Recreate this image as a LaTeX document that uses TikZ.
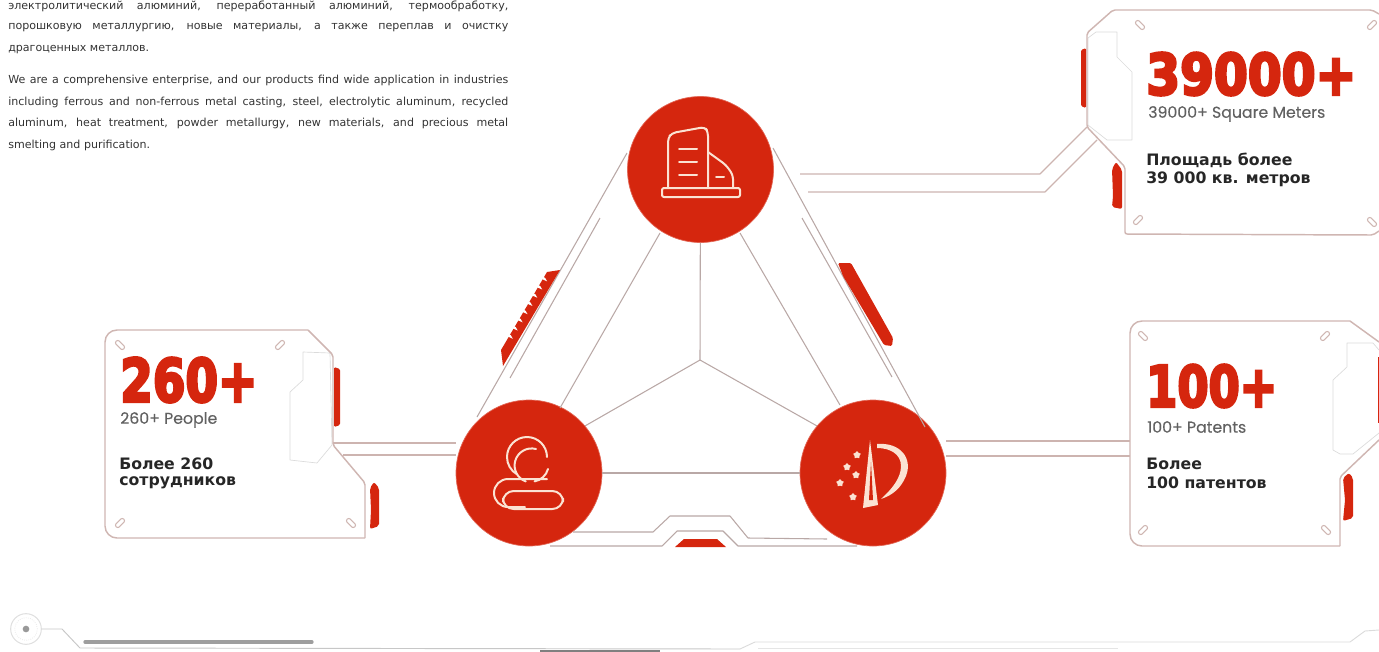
\documentclass[tikz,border=0pt]{standalone}
\usepackage{graphicx}
\usepackage{fontspec}
\usetikzlibrary{shapes.geometric,calc}
\setmainfont{DejaVu Sans}
\newfontfamily\heavyfont[BoldFeatures={FakeBold=5}]{DejaVu Sans}
\newfontfamily\subfont[FakeBold=0.25]{Poppins}
\newfontfamily\titlefont{DejaVu Sans}
\newlength\px \setlength\px{0.75pt}
\definecolor{brand}{HTML}{D5260E}
\definecolor{wire}{HTML}{CDB4B0}
\definecolor{wired}{HTML}{B9A8A6}
\definecolor{cardline}{HTML}{CFB6B2}
\definecolor{iconline}{HTML}{FBE3D3}
\definecolor{bodytext}{HTML}{333333}
\newcommand\bodyline[3]{\node[bodyl] (#1) at (8,#2) {\makebox[500\px][s]{#3}};}
\newcommand\lastline[3]{\node[bodyl] (#1) at (8,#2) {#3};}
\newcommand\bignum[3]{\resizebox{#1\px}{#2\px}{\heavyfont\bfseries #3}}
\tikzset{
  x=0.75pt,y=-0.75pt,
  bodyl/.style={anchor=west,inner sep=0,text=bodytext,font=\fontsize{8.3pt}{10pt}\selectfont},
  hubcircle/.style={circle,fill=brand,draw=brand!70!white,line width=0.5pt,minimum size=109.5pt,inner sep=0},
  wireline/.style={draw=wire,line width=0.85pt},
  spoke/.style={draw=wired,line width=0.8pt},
  card/.style={draw=cardline,line width=1.1pt,line join=round,rounded corners=1.5pt},
  tabline/.style={draw=black!14,line width=0.5pt,line join=round},
  redfill/.style={fill=brand,draw=none},
  icon/.style={draw=iconline,line width=1.5pt,line cap=round,line join=round},
  capsule/.style={draw=cardline,fill=white,line width=0.8pt,rectangle,rounded corners=1.5pt,minimum width=8pt,minimum height=3.4pt,inner sep=0},
  numl/.style={anchor=west,inner sep=0,text=brand},
  subl/.style={anchor=west,inner sep=0,text=black!62,font=\subfont\fontsize{11.8pt}{13pt}\selectfont},
  titl/.style={anchor=west,inner sep=0,text=black!85,font=\titlefont\bfseries\fontsize{11.8pt}{14pt}\selectfont},
  starm/.style={star,star points=5,fill=iconline,minimum size=6pt,inner sep=0},
}
\begin{document}
\begin{tikzpicture}
\useasboundingbox (0,0) rectangle (1379,651);
% body text
\bodyline{r1}{6}{электролитический алюминий, переработанный алюминий, термообработку,}
\bodyline{r2}{28}{порошковую металлургию, новые материалы, а также переплав и очистку}
\lastline{r3}{50}{драгоценных металлов.}
\bodyline{e1}{80}{We are a comprehensive enterprise, and our products find wide application in industries}
\bodyline{e2}{102}{including ferrous and non-ferrous metal casting, steel, electrolytic aluminum, recycled}
\bodyline{e3}{123}{aluminum, heat treatment, powder metallurgy, new materials, and precious metal}
\lastline{e4}{145}{smelting and purification.}
% circles
\node[hubcircle] (top) at (700.5,169.5) {};
\node[hubcircle] (left) at (529,473) {};
\node[hubcircle] (right) at (873,473) {};
\coordinate (hub) at (700,360);
% named wire ends
\coordinate (lo1) at (627,153); \coordinate (lo2) at (477,417);
\coordinate (li1) at (600,218); \coordinate (li2) at (510,378);
\coordinate (ro1) at (773,148); \coordinate (ro2) at (925,427);
\coordinate (ri1) at (802,218); \coordinate (ri2) at (892,377);
\coordinate (ls1) at (660,233); \coordinate (ls2) at (560,408);
\coordinate (rs1) at (740,233); \coordinate (rs2) at (840,405);
% triangle
\draw[spoke] (lo1) -- (lo2);
\draw[spoke] (li1) -- (li2);
\draw[spoke] (ro1) -- (ro2);
\draw[spoke] (ri1) -- (ri2);
\draw[spoke] (ls1) -- (ls2);
\draw[spoke] (rs1) -- (rs2);
\draw[spoke] (top) -- (hub);
\draw[spoke] (hub) -- (left.40);
\draw[spoke] (hub) -- (right.140);
\draw[spoke] (left) -- (right);
% bottom bracket
\draw[spoke,line join=round] (573,532) -- (653,532) -- (670,516) -- (730,516) -- (748,538) -- (827,539);
\draw[spoke,line join=round] (550,546) -- (662,546) -- (677,531) -- (723,531) -- (738,546) -- (857,546);
\fill[redfill] (675,547) -- (684,539) -- (717,539) -- (726,547) -- cycle;
% side tabs on the triangle
\fill[redfill] (560,270) -- (547,272) -- (501,350) -- (503,366) -- cycle;
\foreach \t in {0.12,0.22,...,0.9}
  \fill[white] ($(549,270)!\t!(500,352)$) ++(-2,-4) -- ++(4,2) -- ++(2,3.5) -- ++(-4.5,-2) -- cycle;
\fill[redfill,rounded corners=1pt] (838,263) -- (851,263) -- (893,338) -- (892,346) -- (884,345) -- (843,276) -- cycle;
% top right card
\coordinate (c1) at (1087,127);
\coordinate (c1b) at (1097,140);
\coordinate (w1) at (800,174); \coordinate (w1k) at (1040,174);
\coordinate (w2) at (808,192); \coordinate (w2k) at (1045,192);
\draw[wireline,line join=round] (w1) -- (w1k) -- (c1);
\draw[wireline,line join=round] (w2) -- (w2k) -- (c1b);
\draw[tabline,fill=white] (1088,38) -- (1096,32) -- (1117,32) -- (1117,57) -- (1132,72) -- (1132,140) -- (1107,140) -- (1088,125) -- cycle;
\draw[card] (1379,14) -- (1372,10) -- (1113,10) -- (1087,33) -- (1087,127) -- (1125,167) -- (1125,234) -- (1373,235) -- (1379,231);
\fill[redfill,rounded corners=1pt] (1081,50) -- (1086,48) -- (1086,108) -- (1081,106) -- cycle;
\fill[redfill,rounded corners=1.5pt] (1112,169) -- (1116,162) -- (1122,170) -- (1122,209) -- (1112,207) -- (1113,196) -- cycle;
\foreach \x/\y/\a in {1140/25/-45,1372/25/45,1138/220/45,1372/222/-45}
  \node[capsule,rotate=\a] at (\x,\y) {};
\node[numl] (n1) at (1146,74) {\bignum{210}{42}{39000+}};
\node[subl] (s1) at (1148,114) {39000+ Square Meters};
\node[titl] (t1a) at (1146,160) {Площадь более};
\node[titl] (t1b) at (1146,179) {39 000 кв. метров};
% left card
\coordinate (c2) at (333,443);
\coordinate (c2b) at (343,455);
\draw[wireline] (c2) -- (left.west |- c2);
\draw[wireline] (c2b) -- (left.west |- c2b);
\draw[tabline,fill=white] (303,352) -- (330,353) -- (332,445) -- (317,463) -- (290,460) -- (290,392) -- (303,380) -- cycle;
\draw[card,rounded corners=9pt] (308,330) -- (105,330) -- (105,538) -- (365,538);
\draw[card] (308,330) -- (333,355) -- (333,445) -- (365,483) -- (365,538);
\fill[redfill,rounded corners=1pt] (334,367) -- (340,369) -- (340,425) -- (334,427) -- cycle;
\fill[redfill,rounded corners=1.5pt] (370,488) -- (374,482) -- (379,488) -- (379,526) -- (370,529) -- (371,510) -- cycle;
\foreach \x/\y/\a in {120/345/-45,280/345/45,120/523/45,351/523/-45}
  \node[capsule,rotate=\a] at (\x,\y) {};
\node[numl] (n2) at (120,380) {\bignum{137}{44}{260+}};
\node[subl] (s2) at (120,420) {260+ People};
\node[titl] (t2a) at (119,464) {Более 260};
\node[titl] (t2b) at (119,483) {сотрудников};
% right card
\coordinate (c3) at (1130,441);
\coordinate (c3b) at (1130,456);
\draw[wireline] (right.east |- c3) -- (c3);
\draw[wireline] (right.east |- c3b) -- (c3b);
\draw[tabline,fill=white] (1379,350) -- (1373,343) -- (1347,343) -- (1347,367) -- (1333,380) -- (1333,450) -- (1340,454) -- (1353,454) -- (1379,433);
\draw[card,rounded corners=9pt] (1350,321) -- (1130,321) -- (1130,546) -- (1340,546);
\draw[card] (1350,321) -- (1379,342) (1379,440) -- (1340,477) -- (1340,546);
\fill[redfill] (1377.5,357) rectangle (1379,423);
\fill[redfill,rounded corners=1.5pt] (1343,478) -- (1349,473) -- (1353,478) -- (1353,518) -- (1343,521) -- (1345,500) -- cycle;
\foreach \x/\y/\a in {1143/336/-45,1325/336/45,1143/530/45,1326/530/-45}
  \node[capsule,rotate=\a] at (\x,\y) {};
\node[numl] (n3) at (1146,386) {\bignum{131}{42}{100+}};
\node[subl] (s3) at (1147,427) {100+ Patents};
\node[titl] (t3a) at (1146,464) {Более};
\node[titl] (t3b) at (1146,483) {100 патентов};
% building icon
\draw[icon,rounded corners=1.5pt] (662,188) rectangle (740,197);
\draw[icon,rounded corners=3pt] (668,188) -- (668,138) -- (672,133) -- (705,127) -- (708,132) -- (708,188);
\draw[icon,rounded corners=3pt] (708,152) -- (726,165) -- (733,175) -- (733,188);
\draw[icon] (679,149) -- (697,149) (679,162) -- (697,162) (679,175) -- (697,175) (716,177) -- (724,177);
% left icon
\draw[icon,rounded corners=8pt] (503,491) rectangle (563,509);
\draw[icon] (547,479) -- (508,479) arc[start angle=-90,end angle=-270,radius=14] -- (525,507);
\draw[icon] (547,457) arc[start angle=0,end angle=-240,radius=20];
\draw[icon] (536,449) arc[start angle=-75,end angle=-250,radius=17];
\draw[icon] (548,469) arc[start angle=15,end angle=80,radius=17];
% right icon
\fill[iconline] (870,440) -- (863,508) -- (878,505) -- cycle;
\fill[brand] (871,462) -- (869,500) -- (873,500) -- cycle;
\fill[iconline] (877,444) .. controls (900,442) and (913,458) .. (906,476) .. controls (901,488) and (893,495) .. (881,499) .. controls (892,489) and (901,478) .. (901,466) .. controls (901,454) and (890,448) .. (877,448) -- cycle;
\foreach \x/\y in {857/455,847/467,856/475,840/483,853/497}
  \node[starm] at (\x,\y) {};
% bottom decoration
\node[circle,draw=black!12,line width=0.8pt,minimum size=23pt,inner sep=0] (ring) at (26,629) {};
\node[circle,draw=black!8,densely dotted,line width=0.6pt,minimum size=17pt,inner sep=0] (ring2) at (26,629) {};
\node[circle,fill=black!40,minimum size=5pt,inner sep=0] (dot) at (26,629) {};
\coordinate (bk1) at (62,629); \coordinate (bk2) at (80,648);
\coordinate (bl1) at (740,649); \coordinate (bl2) at (755,642); \coordinate (bl3) at (1350,642); \coordinate (bl4) at (1365,631); \coordinate (bl5) at (1379,630);
\draw[draw=black!22,line width=0.7pt,line join=round] (ring) -- (bk1) -- (bk2) -- (bl1);
\draw[draw=black!14,line width=0.7pt,line join=round] (bl1) -- (bl2) -- (bl3) -- (bl4) -- (bl5);
\draw[draw=black!10,line width=0.7pt] (758,648) -- (1118,648);
\draw[draw=black!38,line width=2.5pt,line cap=round] (85,642) -- (312,642);
\draw[draw=black!50,line width=1.5pt] (540,650.5) -- (660,650.5);
\end{tikzpicture}
\end{document}
